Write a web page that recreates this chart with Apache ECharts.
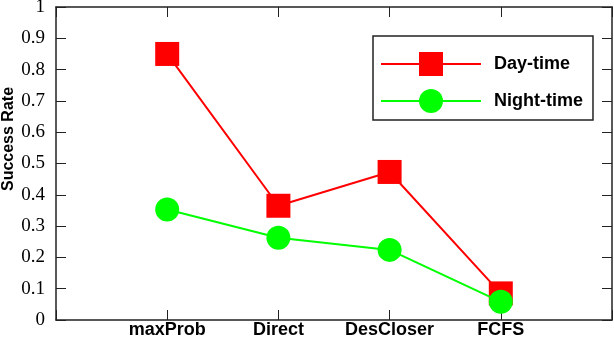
<!DOCTYPE html>
<html>
<head>
<meta charset="utf-8">
<script src="https://cdn.jsdelivr.net/npm/echarts@6/dist/echarts.min.js"></script>
<style>
  html, body { margin: 0; padding: 0; background: #fff; }
  #chart { width: 614px; height: 344px; }
</style>
</head>
<body>
<div id="chart"></div>
<script>
// data
const categories = ['maxProb', 'Direct', 'DesCloser', 'FCFS']
const dayTime = [0.85, 0.365, 0.473, 0.085]
const nightTime = [0.353, 0.263, 0.224, 0.058]
const yTicks = ['0', '0.1', '0.2', '0.3', '0.4', '0.5', '0.6', '0.7', '0.8', '0.9', '1']

// categories sit at 1..4 on a 0..5 axis
const toPoints = vals => vals.map((v, i) => [i + 1, v])
const catLabel = v => (v >= 1 && v <= categories.length) ? categories[v - 1] : ''

const frame = () => ({ show: true, onZero: false, lineStyle: { color: '#222', width: 1.5 } })
const tickIn = () => ({ show: true, inside: true, length: 10, lineStyle: { color: '#222', width: 1 } })

const chart = echarts.init(document.getElementById('chart'))
chart.setOption({
  animation: false,
  grid: { left: 56, right: 2, top: 7, bottom: 24, containLabel: false, outerBoundsMode: 'none' },
  // y axis title sits a bit above the middle in the original
  graphic: [{
    type: 'text',
    x: 9,
    y: 139,
    rotation: Math.PI / 2,
    style: {
      text: 'Success Rate',
      fontFamily: 'Liberation Sans',
      fontWeight: 'bold',
      fontSize: 16,
      fill: '#000',
      align: 'center',
      verticalAlign: 'middle'
    }
  }],
  legend: {
    orient: 'vertical',
    left: 373,
    top: 36,
    padding: [16, 10, 7, 7],
    itemGap: 13,
    itemWidth: 100,
    itemHeight: 30,
    borderColor: '#222',
    borderWidth: 1.5,
    textStyle: {
      fontFamily: 'Liberation Sans',
      fontWeight: 'bold',
      fontSize: 18,
      color: '#000',
      padding: [0, 0, 0, 8]
    },
    data: ['Day-time', 'Night-time']
  },
  xAxis: [{
    type: 'value',
    min: 0,
    max: 5,
    interval: 1,
    axisLine: frame(),
    axisTick: tickIn(),
    splitLine: { show: false },
    axisLabel: {
      formatter: catLabel,
      fontFamily: 'Liberation Sans',
      fontWeight: 'bold',
      fontSize: 18,
      color: '#000',
      margin: 1
    }
  }, {
    type: 'value',
    position: 'top',
    min: 0,
    max: 5,
    interval: 1,
    axisLine: frame(),
    axisTick: tickIn(),
    splitLine: { show: false },
    axisLabel: { show: false }
  }],
  yAxis: [{
    type: 'value',
    min: 0,
    max: 1,
    interval: 0.1,
    axisLine: frame(),
    axisTick: tickIn(),
    splitLine: { show: false },
    axisLabel: {
      formatter: (v) => yTicks[Math.round(v * 10)],
      fontFamily: 'Liberation Serif',
      fontSize: 19,
      color: '#000',
      margin: 11
    }
  }, {
    type: 'value',
    position: 'right',
    min: 0,
    max: 1,
    interval: 0.1,
    axisLine: frame(),
    axisTick: tickIn(),
    splitLine: { show: false },
    axisLabel: { show: false }
  }],
  series: [{
    name: 'Day-time',
    type: 'line',
    data: toPoints(dayTime),
    symbol: 'rect',
    symbolSize: 24,
    color: '#ff0000',
    lineStyle: { color: '#ff0000', width: 2 },
    itemStyle: { color: '#ff0000' },
    z: 2
  }, {
    name: 'Night-time',
    type: 'line',
    data: toPoints(nightTime),
    symbol: 'circle',
    symbolSize: 24,
    color: '#00ff00',
    lineStyle: { color: '#00ff00', width: 2 },
    itemStyle: { color: '#00ff00' },
    z: 3
  }]
})
</script>
</body>
</html>
